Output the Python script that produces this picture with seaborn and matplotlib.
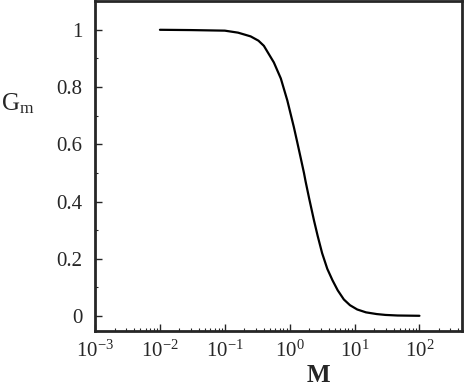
import numpy as np
import pandas as pd
import matplotlib
matplotlib.use("Agg")
import matplotlib.pyplot as plt
import matplotlib.ticker as mticker
import seaborn as sns

# values
M = [0.01, 0.03, 0.1, 0.16, 0.25, 0.33, 0.4, 0.57, 0.73, 0.92, 1.16, 1.3, 1.48,
     1.66, 1.76, 2.0, 2.37, 2.7, 3.16, 3.8, 4.57, 5.5, 6.84, 8.5, 11, 15, 22, 30, 46, 100]
Gm = [1.0, 0.999, 0.997, 0.99, 0.977, 0.962, 0.944, 0.886, 0.83, 0.753, 0.66, 0.61, 0.552,
      0.5, 0.47, 0.41, 0.334, 0.28, 0.22, 0.165, 0.125, 0.09, 0.058, 0.038, 0.023,
      0.013, 0.007, 0.004, 0.002, 0.001]
yticks = [0, 0.2, 0.4, 0.6, 0.8, 1]
ylabels = ["0", "0.2", "0.4", "0.6", "0.8", "1"]

df = pd.DataFrame({"M": M, "Gm": Gm})

sns.set_style("ticks")
plt.rcParams['font.family'] = ['Liberation Serif', 'DejaVu Serif']
plt.rcParams['mathtext.fontset'] = 'custom'
plt.rcParams['mathtext.rm'] = 'Liberation Serif'
plt.rcParams['mathtext.it'] = 'Liberation Serif:italic'

fig = plt.figure(figsize=(4.66, 3.88), dpi=100)
ax = fig.add_axes([0.204, 0.147, 0.787, 0.85])

sns.lineplot(data=df, x="M", y="Gm", color="black", linewidth=1.6, ax=ax)
ax.set_xscale("log")
ax.set_xlim(1e-3, 450)
ax.set_ylim(-0.052, 1.1)

ax.set_yticks(yticks)
ax.set_yticklabels(ylabels)
ax.yaxis.set_minor_locator(mticker.MultipleLocator(0.1))
ax.xaxis.set_major_locator(mticker.LogLocator(base=10, numticks=10))
ax.xaxis.set_minor_locator(mticker.LogLocator(base=10, subs=np.arange(2, 10), numticks=20))
ax.xaxis.set_minor_formatter(mticker.NullFormatter())
ax.xaxis.set_major_formatter(mticker.FuncFormatter(lambda v, p: r"$\mathrm{10}^{%d}$" % round(np.log10(v))))

ax.tick_params(which="major", direction="in", length=5, width=1, labelsize=15,
               top=False, right=False)
ax.tick_params(axis="y", which="major", pad=9)
ax.tick_params(axis="x", which="major", pad=7)
ax.tick_params(which="minor", direction="in", length=2.5, width=0.8, top=False, right=False)
for s in ax.spines.values():
    s.set_linewidth(2)

ax.set_xlabel("M", fontsize=18, fontweight="bold", va="center")
ax.xaxis.set_label_coords(0.61, -0.135)
ax.set_ylabel(r"G$_{\mathrm{m}}$", fontsize=18, rotation=0, va="center")
ax.yaxis.set_label_coords(-0.21, 0.69)

fig.savefig("out.png", dpi=100)
